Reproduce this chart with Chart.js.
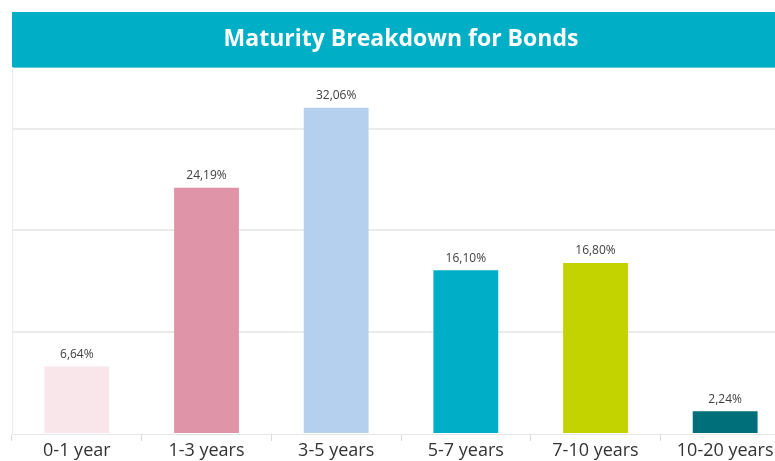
<!DOCTYPE html>
<html>
<head>
<meta charset="utf-8">
<script src="https://cdn.jsdelivr.net/npm/chart.js@4/dist/chart.umd.min.js"></script>
<style>
  html, body { margin: 0; padding: 0; background: #ffffff; overflow: hidden; }
  #wrap { position: relative; width: 790px; height: 461px; }
</style>
</head>
<body>
<div id="wrap"><canvas id="c" width="790" height="461"></canvas></div>
<script>
const categories = ['0-1 year', '1-3 years', '3-5 years', '5-7 years', '7-10 years', '10-20 years'];
const values = [6.64, 24.19, 32.06, 16.10, 16.80, 2.24];
const barColors = ['#F8E6EA', '#E094A8', '#B4D0EE', '#00AFC7', '#C2D300', '#006F7A'];
const titleText = 'Maturity Breakdown for Bonds';

const titleBg = {
  id: 'titleBg',
  beforeDraw(chart) {
    const t = chart.titleBlock;
    const ctx = chart.ctx;
    ctx.save();
    ctx.fillStyle = '#00AFC6';
    ctx.fillRect(t.left, t.top, chart.width - t.left, t.height);
    ctx.restore();
  }
};

const valueLabels = {
  id: 'valueLabels',
  afterDatasetsDraw(chart) {
    const ctx = chart.ctx;
    const meta = chart.getDatasetMeta(0);
    ctx.save();
    ctx.font = '12px "Open Sans", sans-serif';
    ctx.fillStyle = '#404040';
    ctx.textAlign = 'center';
    ctx.textBaseline = 'bottom';
    meta.data.forEach((bar, i) => {
      const v = chart.data.datasets[0].data[i];
      ctx.fillText(v.toFixed(2).replace('.', ',') + '%', bar.x, bar.y - 6);
    });
    ctx.restore();
  }
};

new Chart(document.getElementById('c'), {
  type: 'bar',
  data: {
    labels: categories,
    datasets: [{
      data: values,
      backgroundColor: barColors,
      borderWidth: 0,
      categoryPercentage: 1,
      barPercentage: 0.5
    }]
  },
  options: {
    responsive: false,
    animation: false,
    devicePixelRatio: 1,
    layout: { padding: { left: 12, top: 12, right: 0, bottom: 0 } },
    plugins: {
      legend: { display: false },
      tooltip: { enabled: false },
      title: {
        display: true,
        text: titleText,
        color: '#ffffff',
        font: { family: '"Open Sans", sans-serif', size: 23, weight: 'bold', lineHeight: 1.2 },
        padding: { top: 14, bottom: 14 }
      }
    },
    scales: {
      x: {
        grid: {
          display: true,
          drawOnChartArea: false,
          drawTicks: true,
          tickLength: 7,
          color: '#D9D9D9'
        },
        border: { display: true, color: '#E6E6E6' },
        ticks: {
          color: '#333333',
          padding: 1,
          maxRotation: 0,
          font: { family: '"Open Sans", sans-serif', size: 18, lineHeight: 1 }
        }
      },
      y: {
        min: 0,
        max: 36,
        ticks: { display: false, stepSize: 10 },
        grid: {
          drawTicks: false,
          color: (c) => (c.tick && c.tick.value % 10 === 0 && c.tick.value > 0) ? '#EBEBEB' : 'rgba(0,0,0,0)',
          lineWidth: 2
        },
        border: { display: true, color: '#EBEBEB' }
      }
    }
  },
  plugins: [titleBg, valueLabels]
});
</script>
</body>
</html>
